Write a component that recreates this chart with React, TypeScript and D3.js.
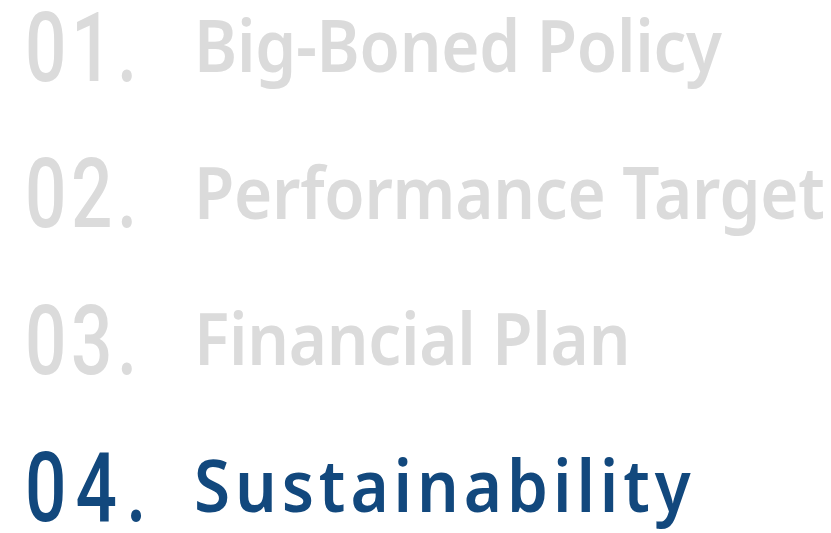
import React from "react";
import * as d3 from "d3";

const numbers = ["01.", "02.", "03.", "04."];
const titles = ["Big-Boned Policy", "Performance Target", "Financial Plan", "Sustainability"];
const activeIndex = 3;

export default function App() {
  const W = 831, H = 533;
  const yText = d3.scaleLinear().domain([0, 3]).range([72, 512]);
  const yNum = d3.scaleLinear().domain([0, 3]).range([80.5, 520.5]);
  return (
    <svg width={W} height={H} style={{ position: "absolute", left: 0, top: 0, background: "#fff" }}>
      {numbers.map((n, i) => {
        const active = i === activeIndex;
        const fill = active ? "#12487d" : "#dbdbdb";
        return (
          <g key={i}>
            <text
              transform={`translate(25,${yNum(i)}) scale(0.76,1)`}
              fontFamily="Roboto"
              fontWeight={500}
              fontSize={96}
              letterSpacing={active ? 12 : 6}
              fill={fill}
            >
              {n}
            </text>
            <text
              transform={`translate(194,${yText(i)}) scale(0.91,1)`}
              fontFamily="'Noto Sans'"
              fontWeight={600}
              fontSize={72}
              letterSpacing={active ? 5.4 : -0.3}
              fill={fill}
            >
              {titles[i]}
            </text>
          </g>
        );
      })}
    </svg>
  );
}
